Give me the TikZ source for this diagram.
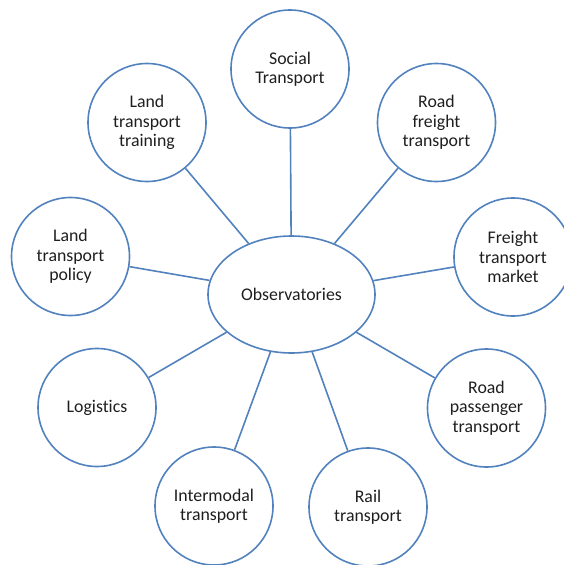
\documentclass[tikz,border=0pt]{standalone}
\usepackage{fontspec}
\setmainfont{Carlito}[Ligatures=NoCommon]
\usetikzlibrary{shapes.geometric}
\definecolor{obsblue}{RGB}{82,130,190}
\definecolor{obstext}{RGB}{30,30,30}
\begin{document}
\begin{tikzpicture}[x=1pt,y=-1pt,
	topic/.style={circle,draw=obsblue,line width=1.6pt,minimum size=118pt,inner sep=0pt,
		align=center,text=obstext,font=\fontsize{17.8}{19.3}\selectfont},
	hub/.style={ellipse,draw=obsblue,line width=1.6pt,minimum width=167pt,minimum height=117pt,
		inner sep=0pt,text=obstext,font=\fontsize{17.8}{19.3}\selectfont},
	link/.style={draw=obsblue,line width=1.6pt}]
	\useasboundingbox (0,0) rectangle (564,565);
	\node[hub] (obs) at (291.5,294.5) {Observatories};

	\node[topic] (social) at (290,69) {Social\\Transport};
	\node[topic] (roadfr) at (436.5,122.5) {Road\\freight\\transport};
	\node[topic] (market) at (513,257) {Freight\\transport\\market};
	\node[topic] (roadps) at (486.5,408) {Road\\passenger\\transport};
	\node[topic] (rail) at (368,507) {Rail\\transport};
	\node[topic] (intermod) at (214,506) {Intermodal\\transport};
	\node[topic] (logist) at (97,407.5) {Logistics};
	\node[topic] (policy) at (70.5,256.5) {Land\\transport\\policy};
	\node[topic] (training) at (147,122.5) {Land\\transport\\training};

	\foreach \t in {social,roadfr,market,roadps,rail,intermod,logist,policy,training}
		\draw[link] (obs) -- (\t);
\end{tikzpicture}
\end{document}
